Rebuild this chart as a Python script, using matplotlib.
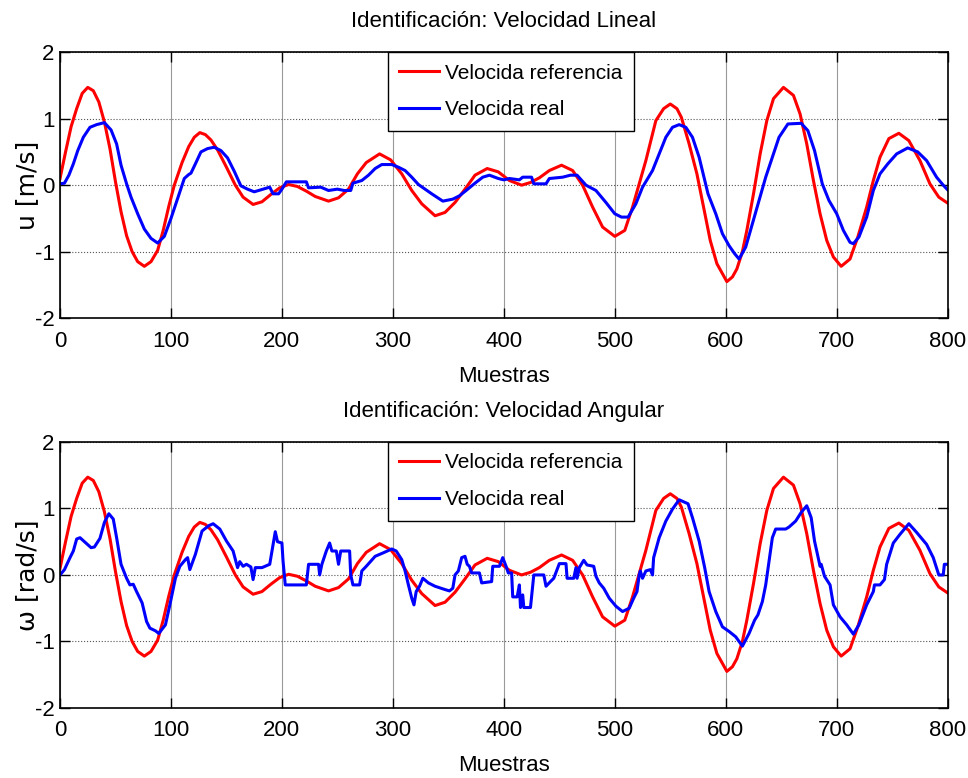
import matplotlib
matplotlib.use('Agg')
import matplotlib.pyplot as plt

# samples / values of the reference speed (same for both subplots)
muestras_ref = [0, 5, 10, 15, 20, 25, 30, 35, 40, 45, 50, 55, 60, 65, 70, 76, 82, 88, 93, 98,
                103, 110, 116, 121, 126, 131, 136, 142, 150, 158, 165, 174, 182, 190, 198, 206,
                214, 222, 230, 242, 251, 260, 268, 276, 288, 298, 308, 317, 326, 338, 347, 356,
                365, 374, 385, 395, 405, 416, 424, 432, 441, 452, 462, 471, 480, 489, 500, 509,
                516, 522, 528, 537, 544, 550, 556, 560, 567, 574, 580, 586, 592, 601, 606, 610,
                615, 619, 625, 631, 637, 643, 652, 661, 667, 673, 679, 685, 691, 697, 704, 712,
                719, 727, 733, 739, 747, 756, 765, 775, 784, 792, 800]
vel_ref = [0.10, 0.50, 0.88, 1.15, 1.38, 1.47, 1.42, 1.25, 0.95, 0.55, 0.05, -0.40, -0.76, -1.00,
           -1.15, -1.22, -1.15, -0.98, -0.68, -0.32, 0.0, 0.34, 0.58, 0.72, 0.79, 0.76, 0.68,
           0.53, 0.27, 0.0, -0.18, -0.29, -0.25, -0.14, -0.04, 0.01, -0.02, -0.09, -0.17, -0.24,
           -0.19, -0.06, 0.17, 0.34, 0.47, 0.38, 0.17, -0.08, -0.28, -0.46, -0.41, -0.26, -0.06,
           0.15, 0.25, 0.20, 0.07, 0.0, 0.04, 0.11, 0.22, 0.30, 0.22, 0.0, -0.33, -0.63, -0.77,
           -0.68, -0.33, 0.02, 0.37, 0.97, 1.15, 1.22, 1.15, 1.02, 0.62, 0.17, -0.33, -0.83,
           -1.18, -1.45, -1.38, -1.26, -1.00, -0.68, -0.13, 0.47, 0.97, 1.30, 1.47, 1.35, 1.07,
           0.62, 0.07, -0.43, -0.83, -1.08, -1.22, -1.11, -0.78, -0.33, 0.07, 0.42, 0.70, 0.78,
           0.67, 0.37, 0.02, -0.18, -0.27]

# measured linear speed
muestras_u = [0, 4, 8, 12, 16, 21, 27, 33, 40, 46, 51, 55, 60, 64, 70, 76, 82, 88, 94, 100,
              106, 112, 116, 118, 122, 127, 133, 139, 145, 151, 157, 163, 169, 175, 181, 189,
              192, 197, 200, 204, 222, 224, 235, 242, 250, 256, 262, 264, 272, 278, 284, 290,
              299, 305, 311, 317, 323, 329, 335, 345, 354, 360, 366, 374, 381, 387, 395, 400,
              405, 414, 417, 425, 427, 438, 441, 453, 460, 466, 474, 483, 492, 500, 506, 512,
              519, 525, 534, 540, 546, 552, 558, 564, 570, 576, 584, 591, 597, 603, 608, 612,
              618, 624, 630, 636, 642, 648, 656, 668, 674, 680, 687, 693, 700, 706, 712, 715,
              720, 727, 733, 739, 746, 754, 764, 773, 781, 790, 796, 800]
vel_u = [0.02, 0.03, 0.15, 0.32, 0.52, 0.72, 0.87, 0.91, 0.94, 0.83, 0.62, 0.30, 0.02, -0.18,
         -0.43, -0.66, -0.80, -0.87, -0.77, -0.50, -0.20, 0.10, 0.16, 0.18, 0.32, 0.50, 0.55,
         0.57, 0.52, 0.41, 0.21, -0.01, -0.06, -0.10, -0.07, -0.03, -0.13, -0.13, -0.06, 0.05,
         0.05, -0.04, -0.03, -0.08, -0.06, -0.08, -0.08, 0.03, 0.07, 0.15, 0.25, 0.31, 0.31,
         0.27, 0.22, 0.12, 0.01, -0.06, -0.13, -0.24, -0.21, -0.16, -0.08, 0.03, 0.12, 0.15,
         0.10, 0.08, 0.10, 0.08, 0.12, 0.12, 0.02, 0.02, 0.10, 0.12, 0.15, 0.15, 0.0, -0.08,
         -0.26, -0.43, -0.48, -0.48, -0.28, -0.03, 0.22, 0.47, 0.72, 0.87, 0.91, 0.87, 0.72,
         0.42, -0.13, -0.43, -0.73, -0.91, -1.03, -1.11, -0.93, -0.58, -0.23, 0.12, 0.42, 0.72,
         0.92, 0.93, 0.82, 0.52, 0.02, -0.23, -0.43, -0.68, -0.86, -0.88, -0.78, -0.48, -0.08,
         0.17, 0.32, 0.47, 0.56, 0.50, 0.37, 0.12, 0.0, -0.07]

# measured angular speed
muestras_w = [0, 4, 9, 12, 15, 18, 22, 28, 31, 36, 40, 44, 48, 51, 55, 60, 63, 66, 69, 74, 78,
              81, 86, 89, 95, 99, 104, 108, 113, 115, 117, 122, 128, 134, 138, 144, 150, 156,
              160, 162, 165, 168, 172, 174, 176, 182, 189, 192, 194, 196, 200, 201, 203, 222,
              224, 233, 234, 236, 240, 243, 245, 249, 251, 253, 261, 262, 264, 270, 272, 276,
              284, 291, 299, 303, 308, 311, 314, 317, 319, 321, 324, 327, 332, 338, 347, 351,
              354, 356, 359, 362, 365, 367, 369, 371, 378, 380, 389, 390, 396, 399, 402, 404,
              407, 408, 412, 414, 415, 417, 418, 424, 426, 427, 436, 438, 442, 445, 448, 450,
              456, 457, 463, 465, 466, 468, 472, 475, 481, 483, 486, 490, 495, 501, 507, 513,
              517, 520, 522, 523, 525, 528, 532, 534, 535, 540, 546, 552, 558, 566, 570, 576,
              581, 585, 591, 597, 603, 609, 615, 621, 626, 629, 633, 636, 639, 642, 645, 654,
              657, 663, 668, 673, 677, 680, 685, 686, 689, 694, 697, 703, 709, 715, 720, 727,
              733, 734, 739, 743, 745, 751, 757, 765, 772, 781, 787, 792, 796, 797, 800]
vel_w = [0.0, 0.08, 0.26, 0.36, 0.54, 0.56, 0.50, 0.41, 0.42, 0.55, 0.79, 0.92, 0.84, 0.56,
         0.16, -0.05, -0.15, -0.14, -0.25, -0.42, -0.70, -0.80, -0.84, -0.88, -0.75, -0.45,
         -0.05, 0.13, 0.23, 0.26, 0.08, 0.31, 0.66, 0.74, 0.77, 0.69, 0.51, 0.36, 0.11, 0.20,
         0.13, 0.16, 0.12, -0.07, 0.11, 0.11, 0.16, 0.46, 0.65, 0.50, 0.48, 0.21, -0.15, -0.15,
         0.16, 0.16, 0.0, 0.16, 0.36, 0.48, 0.36, 0.36, 0.16, 0.36, 0.36, 0.0, -0.15, -0.15,
         0.06, 0.13, 0.28, 0.33, 0.39, 0.36, 0.23, 0.06, -0.15, -0.35, -0.45, -0.25, -0.17,
         -0.05, -0.12, -0.17, -0.22, -0.24, -0.20, 0.0, 0.06, 0.26, 0.28, 0.16, 0.13, 0.03,
         0.03, -0.12, -0.10, 0.13, 0.13, 0.26, 0.13, 0.03, 0.03, -0.33, -0.33, -0.15, -0.49,
         -0.30, -0.49, -0.49, -0.17, 0.0, 0.0, -0.17, -0.10, -0.05, 0.08, 0.17, 0.17, -0.05,
         -0.05, 0.11, -0.05, 0.11, 0.22, 0.15, 0.13, -0.02, -0.12, -0.20, -0.35, -0.47, -0.55,
         -0.50, -0.35, -0.25, 0.0, 0.06, -0.05, 0.06, 0.08, 0.0, 0.26, 0.56, 0.81, 0.99, 1.13,
         1.07, 0.86, 0.51, 0.11, -0.25, -0.55, -0.78, -0.85, -0.93, -1.07, -0.88, -0.68, -0.60,
         -0.40, -0.15, 0.21, 0.56, 0.69, 0.69, 0.72, 0.81, 0.94, 1.04, 0.86, 0.51, 0.13, 0.16,
         -0.02, -0.15, -0.45, -0.63, -0.75, -0.89, -0.75, -0.45, -0.25, -0.15, -0.15, -0.07,
         0.16, 0.48, 0.61, 0.77, 0.64, 0.46, 0.26, 0.0, 0.0, 0.16, 0.16]

xticks = [0, 100, 200, 300, 400, 500, 600, 700, 800]
yticks = [-2, -1, 0, 1, 2]
leyenda = ['Velocida referencia', 'Velocida real']

plt.rcParams['font.family'] = ['Liberation Sans', 'DejaVu Sans']
plt.rcParams['axes.unicode_minus'] = False
FS = 16

fig = plt.figure(figsize=(9.68, 7.78), dpi=100)
ax1 = fig.add_axes([0.062, 0.591, 0.917, 0.342])
ax2 = fig.add_axes([0.062, 0.090, 0.917, 0.342])

paneles = [
    (ax1, muestras_u, vel_u, 'Identificación: Velocidad Lineal', 'u [m/s]'),
    (ax2, muestras_w, vel_w, 'Identificación: Velocidad Angular', 'ω [rad/s]'),
]

for ax, xs, ys, titulo, ylab in paneles:
    ax.plot(muestras_ref, vel_ref, color='#ff0000', lw=2.2, label=leyenda[0])
    ax.plot(xs, ys, color='#0000ff', lw=2.2, label=leyenda[1])
    ax.set_xlim(0, 800)
    ax.set_ylim(-2, 2)
    ax.set_xticks(xticks)
    ax.set_yticks(yticks)
    ax.tick_params(direction='in', length=7, width=1, top=True, right=True, labelsize=FS)
    ax.tick_params(axis='x', pad=9)
    ax.tick_params(axis='y', pad=4)
    ax.xaxis.grid(True, color='#999999', lw=0.8, ls='-')
    ax.yaxis.grid(True, color='#555555', lw=0.8, ls=':')
    for sp in ax.spines.values():
        sp.set_linewidth(1.2)
    ax.set_title(titulo, fontsize=FS, pad=18)
    ax.set_xlabel('Muestras', fontsize=FS, labelpad=10)
    ax.set_ylabel(ylab, fontsize=18, family='DejaVu Sans')
    ax.yaxis.set_label_coords(-0.024, 0.5)
    leg = ax.legend(loc='upper left', bbox_to_anchor=(0.369, 1.0), borderaxespad=0,
                    fontsize=15, fancybox=False, framealpha=1, edgecolor='black',
                    handlelength=1.9, handletextpad=0.3, borderpad=0.55, labelspacing=0.85)
    leg.get_frame().set_linewidth(1.0)

fig.savefig('out.png', dpi=100)
